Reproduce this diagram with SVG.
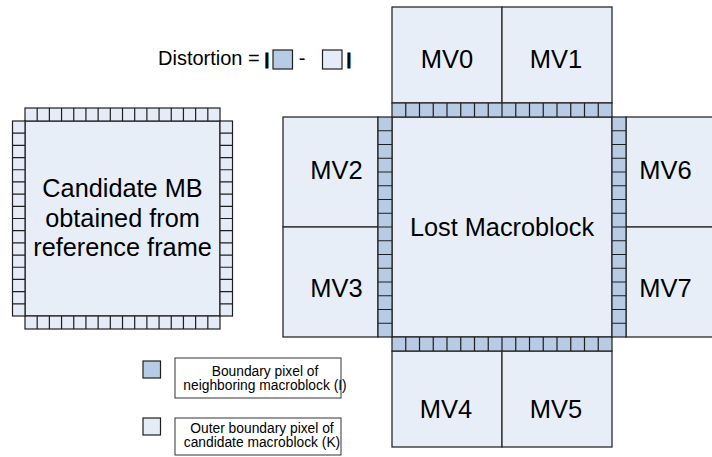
<svg xmlns="http://www.w3.org/2000/svg" width="712" height="457" viewBox="0 0 712 457">
<style>
text{font-family:"Liberation Sans",Arial,sans-serif;fill:#000}
.big{font-size:25.3px;text-anchor:middle}
.mv{font-size:25.5px;text-anchor:middle}
.leg{font-size:13.8px;text-anchor:middle}
.bar{font-size:17px;font-weight:bold;text-anchor:middle;stroke:#000;stroke-width:0.8}
.mb{fill:#E8EEF8;stroke:#2a2a2a;stroke-width:1.3}
.lt{fill:#E6ECF7;stroke:#1e1e1e;stroke-width:1.2}
.bl{fill:#B8CBE4;stroke:#1e1e1e;stroke-width:1.2}
.div{fill:none;stroke:#1e1e1e;stroke-width:1.2}
.box{fill:#fff;stroke:#333;stroke-width:1}
</style>

<g id="distortion-formula">
<text x="158" y="65" style="font-size:20px">Distortion =</text>
<text class="bar" x="267" y="65">|</text>
<rect x="273" y="50" width="19.5" height="19" class="bl"/>
<text x="302" y="65" style="font-size:20px;text-anchor:middle">-</text>
<rect x="322.5" y="50" width="19.5" height="19" class="lt"/>
<text class="bar" x="349" y="65">|</text>
</g>

<g id="candidate-mb">
<rect x="25" y="121" width="195" height="195" class="mb"/>
<rect x="25" y="108" width="195" height="13" class="lt"/>
<path class="div" d="M37.19,108v13m12.1875,-13v13m12.1875,-13v13m12.1875,-13v13m12.1875,-13v13m12.1875,-13v13m12.1875,-13v13m12.1875,-13v13m12.1875,-13v13m12.1875,-13v13m12.1875,-13v13m12.1875,-13v13m12.1875,-13v13m12.1875,-13v13m12.1875,-13v13"/>
<rect x="25" y="316" width="195" height="13" class="lt"/>
<path class="div" d="M37.19,316v13m12.1875,-13v13m12.1875,-13v13m12.1875,-13v13m12.1875,-13v13m12.1875,-13v13m12.1875,-13v13m12.1875,-13v13m12.1875,-13v13m12.1875,-13v13m12.1875,-13v13m12.1875,-13v13m12.1875,-13v13m12.1875,-13v13m12.1875,-13v13"/>
<rect x="12.5" y="121" width="12.5" height="195" class="lt"/>
<path class="div" d="M12.5,133.19h12.5m-12.5,12.1875h12.5m-12.5,12.1875h12.5m-12.5,12.1875h12.5m-12.5,12.1875h12.5m-12.5,12.1875h12.5m-12.5,12.1875h12.5m-12.5,12.1875h12.5m-12.5,12.1875h12.5m-12.5,12.1875h12.5m-12.5,12.1875h12.5m-12.5,12.1875h12.5m-12.5,12.1875h12.5m-12.5,12.1875h12.5m-12.5,12.1875h12.5"/>
<rect x="220" y="121" width="12.5" height="195" class="lt"/>
<path class="div" d="M220,133.19h12.5m-12.5,12.1875h12.5m-12.5,12.1875h12.5m-12.5,12.1875h12.5m-12.5,12.1875h12.5m-12.5,12.1875h12.5m-12.5,12.1875h12.5m-12.5,12.1875h12.5m-12.5,12.1875h12.5m-12.5,12.1875h12.5m-12.5,12.1875h12.5m-12.5,12.1875h12.5m-12.5,12.1875h12.5m-12.5,12.1875h12.5m-12.5,12.1875h12.5"/>
<text class="big" x="122.5" y="197">Candidate MB</text>
<text class="big" x="122.5" y="226.5">obtained from</text>
<text class="big" x="122.5" y="256">reference frame</text>
</g>

<g id="mv0"><rect x="392" y="7" width="110" height="96" class="mb"/><text class="mv" x="447" y="68">MV0</text></g>
<g id="mv1"><rect x="502" y="7" width="110" height="96" class="mb"/><text class="mv" x="556" y="68">MV1</text></g>
<g id="mv2"><rect x="283" y="117" width="95" height="110" class="mb"/><text class="mv" x="336.5" y="179">MV2</text></g>
<g id="mv3"><rect x="283" y="227" width="95" height="110" class="mb"/><text class="mv" x="336.5" y="297">MV3</text></g>
<g id="mv6"><rect x="626" y="117" width="92" height="110" class="mb"/><text class="mv" x="665.5" y="179">MV6</text></g>
<g id="mv7"><rect x="626" y="227" width="92" height="110" class="mb"/><text class="mv" x="665.5" y="297">MV7</text></g>
<g id="mv4"><rect x="392" y="351" width="110" height="96" class="mb"/><text class="mv" x="446" y="418">MV4</text></g>
<g id="mv5"><rect x="502" y="351" width="110" height="96" class="mb"/><text class="mv" x="556" y="418">MV5</text></g>

<g id="lost-macroblock">
<rect x="392" y="117" width="220" height="220" class="mb"/>
<rect x="392" y="103" width="220" height="14" class="bl"/>
<path class="div" d="M405.75,103v14m13.75,-14v14m13.75,-14v14m13.75,-14v14m13.75,-14v14m13.75,-14v14m13.75,-14v14m13.75,-14v14m13.75,-14v14m13.75,-14v14m13.75,-14v14m13.75,-14v14m13.75,-14v14m13.75,-14v14m13.75,-14v14"/>
<rect x="392" y="337" width="220" height="14" class="bl"/>
<path class="div" d="M405.75,337v14m13.75,-14v14m13.75,-14v14m13.75,-14v14m13.75,-14v14m13.75,-14v14m13.75,-14v14m13.75,-14v14m13.75,-14v14m13.75,-14v14m13.75,-14v14m13.75,-14v14m13.75,-14v14m13.75,-14v14m13.75,-14v14"/>
<rect x="378" y="117" width="14" height="220" class="bl"/>
<path class="div" d="M378,130.75h14m-14,13.75h14m-14,13.75h14m-14,13.75h14m-14,13.75h14m-14,13.75h14m-14,13.75h14m-14,13.75h14m-14,13.75h14m-14,13.75h14m-14,13.75h14m-14,13.75h14m-14,13.75h14m-14,13.75h14m-14,13.75h14"/>
<rect x="612" y="117" width="14" height="220" class="bl"/>
<path class="div" d="M612,130.75h14m-14,13.75h14m-14,13.75h14m-14,13.75h14m-14,13.75h14m-14,13.75h14m-14,13.75h14m-14,13.75h14m-14,13.75h14m-14,13.75h14m-14,13.75h14m-14,13.75h14m-14,13.75h14m-14,13.75h14m-14,13.75h14"/>
<text class="big" x="502" y="236">Lost Macroblock</text>
</g>

<g id="legend-boundary">
<rect x="143" y="361" width="17.5" height="17" class="bl"/>
<rect x="175" y="358" width="166" height="40" class="box"/>
<text class="leg" x="265" y="376">Boundary pixel of</text>
<text class="leg" x="265" y="390">neighboring macroblock (I)</text>
</g>

<g id="legend-outer">
<rect x="143" y="418" width="17.5" height="17" class="lt"/>
<rect x="175" y="418" width="166" height="37" class="box"/>
<text class="leg" x="262" y="433">Outer boundary pixel of</text>
<text class="leg" x="262" y="447">candidate macroblock (K)</text>
</g>
</svg>
